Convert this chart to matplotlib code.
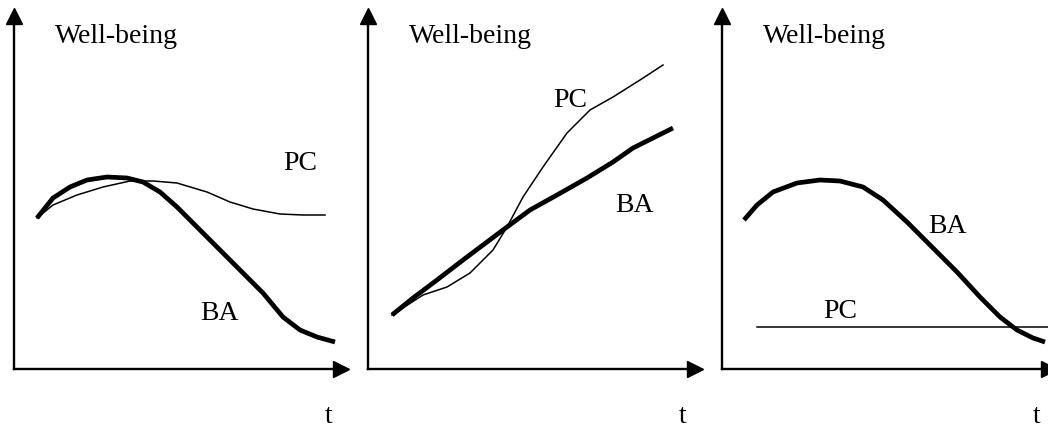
import matplotlib.pyplot as plt

plt.rcParams['font.family'] = ['Liberation Serif', 'DejaVu Serif']

# curve values (t, well-being), origin = axes corner
ba1_t = [23, 39, 56, 73, 93, 113, 129, 146, 163, 183, 206, 229, 249, 269, 286, 303, 321]
ba1_w = [151, 171, 182, 189, 192, 191, 187, 177, 162, 142, 119, 96, 76, 52, 39, 32, 27]
pc1_t = [23, 39, 63, 89, 116, 139, 163, 193, 216, 239, 266, 289, 311]
pc1_w = [151, 164, 174, 182, 188, 188, 186, 177, 167, 160, 155, 154, 154]

ba2_t = [24, 45, 69, 95, 119, 139, 162, 189, 219, 245, 265, 285, 305]
ba2_w = [54, 71, 89, 109, 127, 142, 159, 174, 191, 207, 221, 231, 241]
pc2_t = [24, 55, 79, 102, 125, 139, 155, 175, 199, 222, 245, 272, 295]
pc2_w = [54, 74, 82, 96, 119, 142, 172, 202, 236, 259, 272, 289, 304]

ba3_t = [22, 35, 51, 75, 98, 118, 141, 161, 185, 208, 235, 258, 278, 295, 311, 323]
ba3_w = [149, 164, 177, 186, 189, 188, 182, 169, 147, 124, 97, 72, 52, 39, 31, 27]
pc3_t = [35, 326]
pc3_w = [42, 42]

panels = [
    dict(ox=14, ba=(ba1_t, ba1_w), pc=(pc1_t, pc1_w),
         pc_lab=(269, 199), ba_lab=(186, 49)),
    dict(ox=368, ba=(ba2_t, ba2_w), pc=(pc2_t, pc2_w),
         pc_lab=(185, 262), ba_lab=(247, 157)),
    dict(ox=722, ba=(ba3_t, ba3_w), pc=(pc3_t, pc3_w),
         pc_lab=(101, 51), ba_lab=(206, 136)),
]

FW, FH = 1048, 428
W, H = 327, 353
fig = plt.figure(figsize=(FW / 100, FH / 100), dpi=100)

for p in panels:
    ax = fig.add_axes([p['ox'] / FW, (FH - 369) / FH, W / FW, H / FH])
    ax.set_xlim(0, W)
    ax.set_ylim(0, H)
    for s in ['top', 'right']:
        ax.spines[s].set_visible(False)
    for s in ['left', 'bottom']:
        ax.spines[s].set_linewidth(1.7)
    ax.set_xticks([])
    ax.set_yticks([])
    ax.plot(1, 0, '>k', ms=11, transform=ax.get_yaxis_transform(), clip_on=False)
    ax.plot(0, 1, '^k', ms=11, transform=ax.get_xaxis_transform(), clip_on=False)

    ax.plot(*p['ba'], color='black', lw=3.4, solid_capstyle='butt',
            solid_joinstyle='round', clip_on=False)
    ax.plot(*p['pc'], color='black', lw=1.1, solid_joinstyle='round', clip_on=False)

    fs = 20
    ax.text(41, 326, 'Well-being', fontsize=fs, va='baseline')
    ax.text(*p['pc_lab'], 'PC', fontsize=fs, va='baseline')
    ax.text(*p['ba_lab'], 'BA', fontsize=fs, va='baseline')
    ax.text(311, -54, 't', fontsize=fs, va='baseline', clip_on=False)

fig.savefig('out.png', dpi=100)
